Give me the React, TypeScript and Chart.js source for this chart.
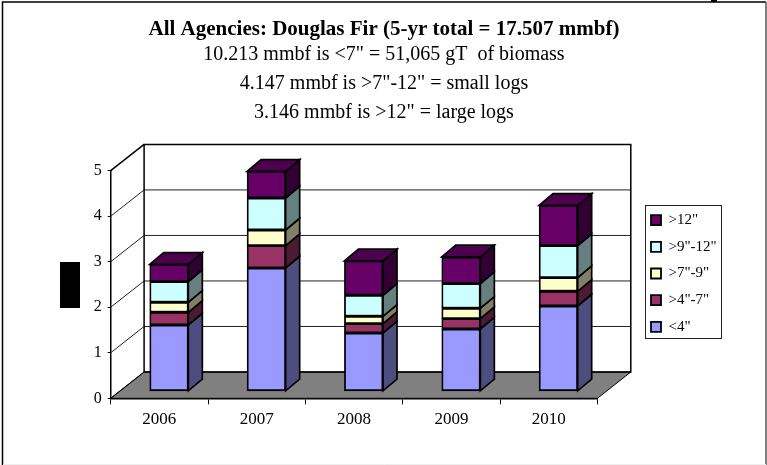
import React, { useEffect, useRef } from "react";
import { Chart, registerables } from "chart.js";

Chart.register(...registerables);

const years = ["2006", "2007", "2008", "2009", "2010"];
const under4 = [1.458, 2.71, 1.282, 1.37, 1.875];
const from4to7 = [0.278, 0.49, 0.205, 0.227, 0.322];
const from7to9 = [0.22, 0.344, 0.161, 0.227, 0.3];
const from9to12 = [0.454, 0.703, 0.462, 0.542, 0.703];
const over12 = [0.38, 0.586, 0.755, 0.586, 0.886];
const yTicks = [0, 1, 2, 3, 4, 5];

const titleText = 'All Agencies: Douglas Fir (5-yr total = 17.507 mmbf)';
const subtitleLines = [
  '10.213 mmbf is <7" = 51,065 gT  of biomass',
  '4.147 mmbf is >7"-12" = small logs',
  '3.146 mmbf is >12" = large logs',
];

const FONT = "'Liberation Serif', serif";
const DEPTH_X = 33.4;
const DEPTH_Y = 26.3;
const BAR_OFF_X = 9.65;
const BAR_OFF_Y = 7;
const BAR_DX = 14;
const BAR_DY = 11.7;

const sideColors = ["#4D4D80", "#4D1A33", "#808066", "#668080", "#330033"];
const topColor = "#4D004D";

function poly(ctx: CanvasRenderingContext2D, pts: number[][], fill: string | null, stroke: string, lw: number) {
  ctx.beginPath();
  pts.forEach((p, i) => (i ? ctx.lineTo(p[0], p[1]) : ctx.moveTo(p[0], p[1])));
  ctx.closePath();
  if (fill) {
    ctx.fillStyle = fill;
    ctx.fill();
  }
  ctx.strokeStyle = stroke;
  ctx.lineWidth = lw;
  ctx.lineJoin = "miter";
  ctx.stroke();
}

function seg(ctx: CanvasRenderingContext2D, pts: number[][], stroke: string, lw: number) {
  ctx.beginPath();
  pts.forEach((p, i) => (i ? ctx.lineTo(p[0], p[1]) : ctx.moveTo(p[0], p[1])));
  ctx.strokeStyle = stroke;
  ctx.lineWidth = lw;
  ctx.stroke();
}

const scene3d = {
  id: "scene3d",
  afterLayout(chart: any) {
    const lg = chart.legend;
    if (!lg) return;
    lg.left = 639.3;
    lg.right = 730;
    lg.top = 200.9;
    lg.bottom = 420;
  },
  beforeDatasetsDraw(chart: any) {
    const { ctx, chartArea, scales } = chart;
    const { left, right, top, bottom } = chartArea;
    ctx.save();
    const backL = left + DEPTH_X;
    const backR = right + DEPTH_X;
    const backT = top - DEPTH_Y;
    const backB = bottom - DEPTH_Y;
    // floor
    poly(ctx, [[left, bottom], [right, bottom], [backR, backB], [backL, backB]], "#808080", "#000", 1);
    // gridlines on the side wall and the back wall
    yTicks.slice(1, -1).forEach((v) => {
      const y = scales.y.getPixelForValue(v);
      seg(ctx, [[left, y], [backL, y - DEPTH_Y], [backR, y - DEPTH_Y]], "#222", 1);
    });
    // walls
    seg(ctx, [[backL, backB], [backL, backT], [backR, backT], [backR, backB], [backL, backB]], "#000", 1.5);
    seg(ctx, [[left, top], [backL, backT]], "#000", 1.5);
    seg(ctx, [[left, bottom], [backL, backB]], "#000", 1);
    ctx.restore();

    // 3D sides of the bars, in the bars' depth plane
    ctx.save();
    ctx.translate(BAR_OFF_X, -BAR_OFF_Y);
    const n = chart.data.datasets.length;
    for (let d = 0; d < n; d++) {
      const els = chart.getDatasetMeta(d).data;
      els.forEach((el: any) => {
        const xr = el.x + el.width / 2;
        const xl = el.x - el.width / 2;
        poly(ctx, [[xr, el.y], [xr + BAR_DX, el.y - BAR_DY], [xr + BAR_DX, el.base - BAR_DY], [xr, el.base]], sideColors[d], "#000", 1.7);
        if (d === n - 1) {
          poly(ctx, [[xl, el.y], [xl + BAR_DX, el.y - BAR_DY], [xr + BAR_DX, el.y - BAR_DY], [xr, el.y]], topColor, "#000", 1.7);
        }
      });
    }
    ctx.restore();

    ctx.save();
    ctx.translate(BAR_OFF_X, -BAR_OFF_Y);
  },
  afterDatasetsDraw(chart: any) {
    chart.ctx.restore();
  },
  beforeDraw(chart: any) {
    const { ctx, width, height } = chart;
    ctx.save();
    ctx.fillStyle = "#fff";
    ctx.fillRect(0, 0, width, height);
    ctx.restore();
  },
  afterDraw(chart: any) {
    const { ctx } = chart;
    ctx.save();
    // legend frame
    ctx.strokeStyle = "#222";
    ctx.lineWidth = 1;
    ctx.strokeRect(645.5, 205.5, 76, 133);
    // blacked-out axis title
    ctx.fillStyle = "#000";
    ctx.fillRect(60, 262, 20, 46);
    // outer frame
    seg(ctx, [[2.5, 465], [2.5, 2], [766, 2]], "#000", 1.5);
    seg(ctx, [[766, 2], [766, 465]], "#555", 1.5);
    seg(ctx, [[3, 464.5], [766, 464.5]], "#eee", 1);
    // clipped glyph above the frame
    ctx.fillStyle = "#000";
    ctx.fillRect(711, 0, 6, 2);
    ctx.restore();
  },
};

export default function App() {
  const ref = useRef<HTMLCanvasElement>(null);
  useEffect(() => {
    document.body.style.margin = "0";
    const common = { borderColor: "#000", borderWidth: 1.8, borderSkipped: false, clip: false, barThickness: 38.6 };
    const chart = new Chart(ref.current as HTMLCanvasElement, {
      type: "bar",
      data: {
        labels: years,
        datasets: [
          { label: '<4"', data: under4, backgroundColor: "#9999FF", ...common },
          { label: '>4"-7"', data: from4to7, backgroundColor: "#993366", ...common },
          { label: '>7"-9"', data: from7to9, backgroundColor: "#FFFFCC", ...common },
          { label: '>9"-12"', data: from9to12, backgroundColor: "#CCFFFF", ...common },
          { label: '>12"', data: over12, backgroundColor: "#660066", ...common },
        ] as any,
      },
      options: {
        responsive: false,
        animation: false,
        layout: { padding: { top: 0, left: 83.2, bottom: 0, right: 82.2 } },
        plugins: {
          tooltip: { enabled: false },
          title: {
            display: true,
            text: titleText,
            color: "#000",
            font: { family: FONT, size: 21, weight: "bold", lineHeight: "20px" },
            padding: { top: 20, bottom: 0 },
          },
          subtitle: {
            display: true,
            text: subtitleLines,
            color: "#000",
            font: { family: FONT, size: 20, weight: "normal", lineHeight: "29px" },
            padding: { top: 0, bottom: 43.7 },
          },
          legend: {
            position: "right",
            align: "start",
            reverse: true,
            labels: {
              color: "#000",
              boxWidth: 10,
              boxHeight: 10,
              padding: 11.7,
              font: { family: FONT, size: 15 },
            },
          },
        },
        scales: {
          x: {
            stacked: true,
            afterFit: (s: any) => {
              s.height = 66.7;
            },
            border: { display: true, color: "#000", width: 1.5 },
            grid: { drawOnChartArea: false, drawTicks: true, tickLength: 6, color: "#000", offset: true },
            ticks: { color: "#000", padding: 5, font: { family: FONT, size: 17 }, maxRotation: 0 },
          },
          y: {
            stacked: true,
            min: 0,
            max: 5,
            afterFit: (s: any) => {
              s.width = 27.5;
            },
            border: { display: true, color: "#000", width: 1.5 },
            grid: { drawOnChartArea: false, drawTicks: true, tickLength: 3, color: "#000" },
            ticks: { color: "#000", stepSize: 1, padding: 6, font: { family: FONT, size: 16 } },
          },
        },
      } as any,
      plugins: [scene3d],
    });
    return () => chart.destroy();
  }, []);
  return <canvas ref={ref} width={767} height={465} style={{ display: "block", width: 767, height: 465 }} />;
}
